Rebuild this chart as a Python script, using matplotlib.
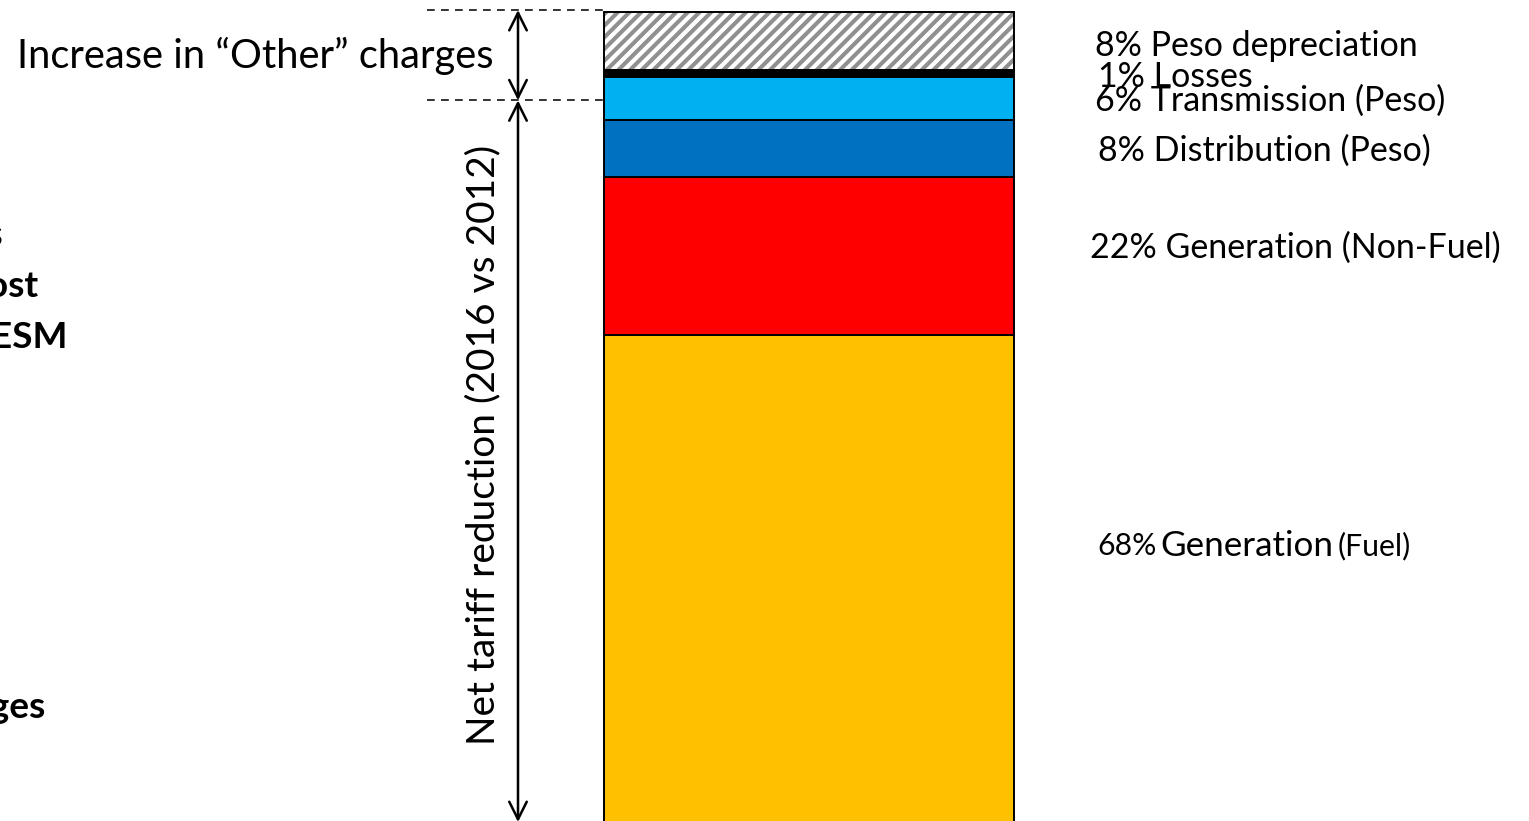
import matplotlib
matplotlib.use("Agg")
import matplotlib.pyplot as plt

# ---------------------------------------------------------
# DATA
# ---------------------------------------------------------
# contribution to the 2012 -> 2016 tariff change, stacked bottom to top
components = ["Generation", "Generation", "Distribution", "Transmission", "Losses", "Peso depreciation"]
qualifiers = ["(Fuel)", "(Non-Fuel)", "(Peso)", "(Peso)", "", ""]
shares = [68, 22, 8, 6, 1, 8]
colors = ["#FFC000", "#FF0000", "#0070C0", "#00B0F0", "#000000", "white"]
hatched = [False, False, False, False, False, True]

# bracket levels on the value axis: net reduction and the "Other" increase on top
net_reduction_top = 100.7
other_top = 113.3

# labels of the neighbouring panel, cut off at the left edge
side_labels = ["drivers", "Fuel cost", "WESM", "Other charges"]

# ---------------------------------------------------------
# LAYOUT (x in pixels, y in share units)
# ---------------------------------------------------------
W, H, DPI = 1529, 821, 140
Y_BOT, Y_TOP = 0.15, 114.7
BAR_LEFT, BAR_WIDTH = 604, 410
ARROW_X = 518
DASH_X0 = 427
LABEL_X = [1097, 1090, 1098, 1095, 1098, 1095]
LABEL_Y = [38.5, 80.2, 93.7, 100.6, 104.0, 108.3]
FUEL_PARTS_X = [1097, 1160, 1338]
SIDE_X = [3, 38, 68, 45]
SIDE_Y = [81.8, 74.7, 67.6, 16.0]

plt.rcParams["font.family"] = ["Lato", "DejaVu Sans"]
plt.rcParams["hatch.linewidth"] = 2.1

fig = plt.figure(figsize=(W / DPI, H / DPI), dpi=DPI)
ax = fig.add_axes([0, 0, 1, 1])
ax.set_xlim(0, W)
ax.set_ylim(Y_BOT, Y_TOP)
ax.axis("off")

bottom = 0
for share, color, hatch in zip(shares, colors, hatched):
    if hatch:
        ax.bar(BAR_LEFT, share, bottom=bottom, width=BAR_WIDTH, align="edge",
               color="white", edgecolor="#909090", hatch="////", linewidth=0)
        ax.bar(BAR_LEFT, share, bottom=bottom, width=BAR_WIDTH, align="edge",
               fill=False, edgecolor="black", linewidth=1.0)
    else:
        ax.bar(BAR_LEFT, share, bottom=bottom, width=BAR_WIDTH, align="edge",
               color=color, edgecolor="black", linewidth=1.0)
    bottom += share

# segment labels
label_size = 17.5
small_size = 15.5
for i, (comp, qual, share) in enumerate(zip(components, qualifiers, shares)):
    if i == 0:
        # fuel label mixes sizes
        parts = [(f"{share}%", small_size), (comp, 18), (qual, small_size)]
        for (txt, size), x in zip(parts, FUEL_PARTS_X):
            ax.text(x, LABEL_Y[i], txt, fontsize=size, va="center", ha="left")
    else:
        txt = f"{share}% {comp}" + (f" {qual}" if qual else "")
        ax.text(LABEL_X[i], LABEL_Y[i], txt, fontsize=label_size, va="center", ha="left")

# brackets
arrow_kw = dict(arrowstyle="<->,head_length=0.9,head_width=0.45", color="black",
                lw=1.3, shrinkA=0, shrinkB=0)
ax.annotate("", xy=(ARROW_X, other_top), xytext=(ARROW_X, net_reduction_top), arrowprops=arrow_kw)
ax.annotate("", xy=(ARROW_X, net_reduction_top), xytext=(ARROW_X, 0), arrowprops=arrow_kw)
for lvl in (other_top, net_reduction_top):
    ax.plot([DASH_X0, BAR_LEFT], [lvl, lvl], color="black", lw=0.8, ls=(0, (5, 4)))

ax.text(255, 106.9, "Increase in \u201cOther\u201d charges", fontsize=20.5, ha="center", va="center")
ax.text(483, 52.6, "Net tariff reduction (2016 vs 2012)", fontsize=20, rotation=90,
        ha="center", va="center")

for lbl, x, y in zip(side_labels, SIDE_X, SIDE_Y):
    ax.text(x, y, lbl, fontsize=19, fontweight="bold", ha="right", va="center")

fig.savefig("out.png", dpi=DPI)
